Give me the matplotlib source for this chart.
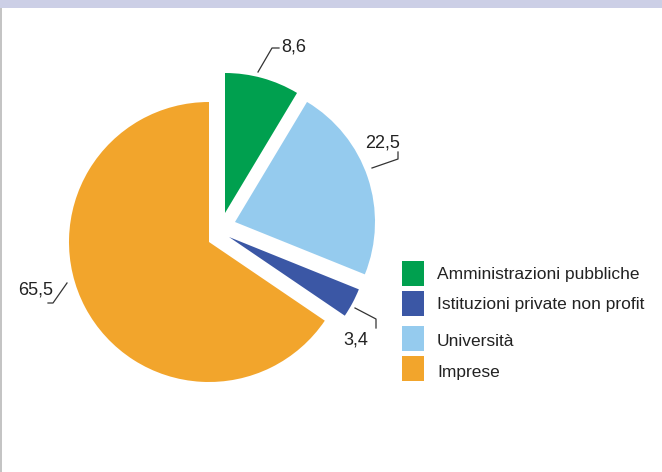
import matplotlib
matplotlib.use("Agg")
import matplotlib.pyplot as plt
from matplotlib.patches import Rectangle

plt.rcParams['font.family'] = ['Liberation Sans', 'DejaVu Sans']

# pie order (clockwise from top)
categories = ['Amministrazioni pubbliche', 'Università',
              'Istituzioni private non profit', 'Imprese']
values = [8.6, 22.5, 3.4, 65.5]
colors = ['#00A04F', '#95CBEE', '#3B57A5', '#F2A52C']

# legend order
legend_order = ['Amministrazioni pubbliche', 'Istituzioni private non profit',
                'Università', 'Imprese']

W, H = 662, 472
fig = plt.figure(figsize=(W / 100, H / 100), dpi=100)
ax = fig.add_axes([0, 0, 1, 1])

cx, cy, r = 209, H - 242, 140
wedges, _ = ax.pie(values, colors=colors, startangle=90, counterclock=False,
                   center=(cx, cy), radius=r, wedgeprops=dict(linewidth=0))

# shifted slices (pixel offsets)
shifts = [(16, 29), (26, 20), (20, 5), (0, 0)]
for w, (dx, dy) in zip(wedges, shifts):
    w.set_center((cx + dx, cy + dy))

ax.set_xlim(0, W)
ax.set_ylim(0, H)
ax.set_aspect('equal')
ax.axis('off')

# value labels with leader lines
def lab(v):
    return f"{v:.1f}".replace('.', ',')

fs = 13
lc = '#333333'
tc = '#222222'
# 8,6
ax.plot([258, 272, 279], [H - 72, H - 48, H - 48], color=lc, lw=0.9)
ax.text(281, H - 47, lab(values[0]), fontsize=fs, ha='left', va='center', color=tc)
# 22,5
ax.plot([398, 398, 372], [H - 152, H - 159, H - 168], color=lc, lw=0.9)
ax.text(383, H - 143, lab(values[1]), fontsize=fs, ha='center', va='center', color=tc)
# 3,4
ax.plot([355, 376, 376], [H - 308, H - 319, H - 328], color=lc, lw=0.9)
ax.text(356, H - 340, lab(values[2]), fontsize=fs, ha='center', va='center', color=tc)
# 65,5
ax.plot([48, 53, 67], [H - 303, H - 303, H - 283], color=lc, lw=0.9)
ax.text(36, H - 290, lab(values[3]), fontsize=fs, ha='center', va='center', color=tc)

# legend, drawn as boxes + text
box_tops = [261, 291, 326, 356]
text_y = [274, 304, 342, 372]
for name, top, ty in zip(legend_order, box_tops, text_y):
    col = colors[categories.index(name)]
    ax.add_patch(Rectangle((402, H - top - 25), 22, 25, facecolor=col, edgecolor='none'))
    ax.text(437, H - ty, name, fontsize=12.5, ha='left', va='center', color=tc)

# top band and left border
fig.patches.append(Rectangle((0, 1 - 8 / H), 1, 8 / H, transform=fig.transFigure,
                             facecolor='#CCCFE6', edgecolor='none'))
fig.patches.append(Rectangle((0, 0), 2 / W, 1 - 8 / H, transform=fig.transFigure,
                             facecolor='#C4C4C4', edgecolor='none'))

fig.savefig('out.png', dpi=100)
